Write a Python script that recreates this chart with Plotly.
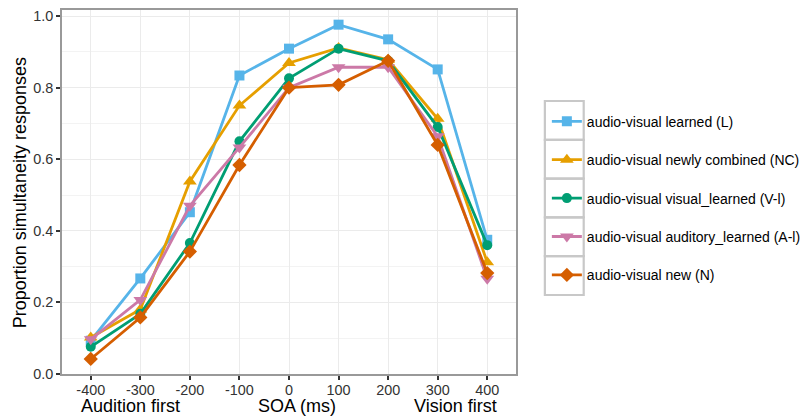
import plotly.graph_objects as go

soa = [-400, -300, -200, -100, 0, 100, 200, 300, 400]
series_names = [
    "audio-visual learned (L)",
    "audio-visual newly combined (NC)",
    "audio-visual visual_learned (V-l)",
    "audio-visual auditory_learned (A-l)",
    "audio-visual new (N)",
]
learned = [0.093, 0.267, 0.452, 0.834, 0.909, 0.976, 0.935, 0.851, 0.375]
newly_combined = [0.102, 0.180, 0.538, 0.750, 0.869, 0.911, 0.878, 0.713, 0.312]
visual_learned = [0.076, 0.168, 0.366, 0.650, 0.826, 0.909, 0.875, 0.690, 0.360]
auditory_learned = [0.097, 0.207, 0.470, 0.633, 0.800, 0.857, 0.857, 0.664, 0.266]
new = [0.042, 0.158, 0.342, 0.584, 0.800, 0.808, 0.875, 0.640, 0.282]
y_ticks = [0.0, 0.2, 0.4, 0.6, 0.8, 1.0]
x_title_parts = ["Audition first", "SOA (ms)", "Vision first"]
y_title = "Proportion simultaneity responses"

values = [learned, newly_combined, visual_learned, auditory_learned, new]
colors = ["#56B4E9", "#E69F00", "#009E73", "#CC79A7", "#D55E00"]
symbols = ["square", "triangle-up", "circle", "triangle-down", "diamond"]
sizes = [10, 12, 10, 12, 11]

FONT = "Liberation Sans, Arial, sans-serif"

fig = go.Figure()
for i, (name, vals) in enumerate(zip(series_names, values)):
    fig.add_trace(go.Scatter(
        x=soa, y=vals, name=name, mode="lines+markers",
        legendgroup=f"g{i}",
        line=dict(color=colors[i], width=2.8),
        marker=dict(symbol=symbols[i], size=sizes[i], color=colors[i], line=dict(width=0)),
    ))

# page body has an 8px margin: figure is placed at (8, 8) in the 808x420 window
OFF = 8
W, H = 808 - OFF, 420 - OFF
# plot area in window pixels
PL, PR, PT, PB = 62, 518, 10, 374
L, R, T, B = PL - OFF, W - (PR - OFF), PT - OFF, H - (PB - OFF)
pw = W - L - R
ph = H - T - B

def px_x(px):
    return (px - OFF - L) / pw

def px_y(py):
    return (H - B - (py - OFF)) / ph

shapes = []
box_top = 101
box_h = 38.8
for i in range(5):
    shapes.append(dict(type="rect", xref="paper", yref="paper",
                       x0=px_x(547), x1=px_x(586),
                       y0=px_y(box_top + i * box_h), y1=px_y(box_top + (i + 1) * box_h),
                       line=dict(color="#c8c8c8", width=2.2), fillcolor="rgba(0,0,0,0)", layer="above"))

title_x = [131, 298, 457]
annotations = [
    dict(text=t, x=px_x(cx), y=px_y(406), xref="paper", yref="paper",
         showarrow=False, font=dict(size=18, color="black", family=FONT),
         xanchor="center", yanchor="middle")
    for t, cx in zip(x_title_parts, title_x)
]
annotations.append(dict(text=y_title, x=px_x(20), y=px_y(193), xref="paper", yref="paper",
                        showarrow=False, textangle=-90,
                        font=dict(size=18, color="black", family=FONT),
                        xanchor="center", yanchor="middle"))

fig.update_layout(
    width=W, height=H,
    margin=dict(l=L, r=R, t=T, b=B, pad=0),
    paper_bgcolor="white", plot_bgcolor="white",
    font=dict(family=FONT, size=14.4, color="black"),
    showlegend=True,
    legend=dict(x=px_x(549), y=px_y(105.7), xanchor="left", yanchor="top",
                traceorder="grouped", tracegroupgap=17.2,
                font=dict(size=14, color="black", family=FONT),
                bgcolor="rgba(0,0,0,0)", borderwidth=0),
    shapes=shapes,
    annotations=annotations,
    xaxis=dict(range=[-458, 458], tickvals=soa, ticktext=[str(v) for v in soa],
               automargin=False,
               showgrid=True, gridcolor="#ebebeb", gridwidth=1,
               ticks="outside", ticklen=4, tickwidth=1.5, tickcolor="#333333",
               ticklabelstandoff=-2,
               tickfont=dict(size=14.4, color="#333333"),
               showline=True, linecolor="#999999", linewidth=1.5, mirror=True,
               zeroline=False),
    yaxis=dict(range=[0, 1.017], tickvals=y_ticks, ticktext=[f"{v:.1f}" for v in y_ticks],
               automargin=False,
               showgrid=True, gridcolor="#ebebeb", gridwidth=1,
               minor=dict(tickvals=[0.1, 0.3, 0.5, 0.7, 0.9], showgrid=True, gridcolor="#f3f3f3", gridwidth=1),
               ticks="outside", ticklen=4, tickwidth=1.5, tickcolor="#333333",
               tickfont=dict(size=14.4, color="#333333"),
               showline=True, linecolor="#999999", linewidth=1.5, mirror=True,
               zeroline=False),
)

fig.write_html("out.html")
